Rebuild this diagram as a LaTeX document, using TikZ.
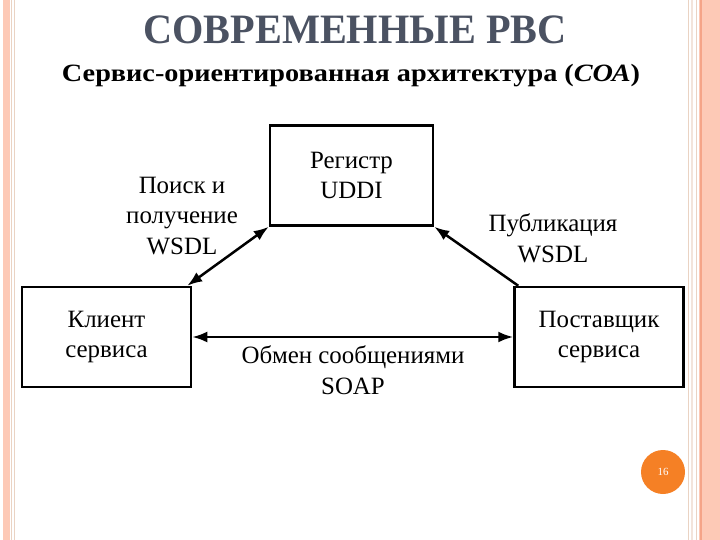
\documentclass[tikz,border=0pt]{standalone}
\usepackage{fontspec}
\setmainfont{Liberation Serif}
\usetikzlibrary{arrows.meta}
\definecolor{stripe}{HTML}{FDC9B6}
\definecolor{stripedark}{HTML}{F5A488}
\definecolor{stripelight}{HTML}{EAD3C3}
\definecolor{titlegrey}{HTML}{4B5262}
\definecolor{pageorange}{HTML}{F58025}
\tikzset{
  box/.style={draw=black, line width=2.5bp, minimum width=#1, minimum height=100bp, inner sep=0pt,
    align=center, font=\fontsize{25}{30}\selectfont},
  lbl/.style={align=center, font=\fontsize{25}{31}\selectfont, inner sep=0pt},
  conn/.style={line width=2.5bp, arrows={-Latex[length=15bp,width=11bp]}},
  dconn/.style={line width=2.5bp, arrows={Latex[length=15bp,width=11bp]-Latex[length=15bp,width=11bp]}}
}
\begin{document}
\begin{tikzpicture}[x=1bp,y=-1bp]
\useasboundingbox (0,0) rectangle (720,540);
% side stripes
\fill[stripe] (3,0) rectangle (10,540);
\fill[stripelight] (11,0) rectangle (12,540);
\fill[stripelight] (13.5,0) rectangle (14.5,540);
\fill[stripelight] (687.5,0) rectangle (689,540);
\fill[stripelight!60] (691,0) rectangle (693,540);
\fill[stripelight] (695.5,0) rectangle (697,540);
\fill[stripe] (699,0) rectangle (720,540);
\fill[stripedark] (700,0) rectangle (701.5,540);
% titles
\node[text=titlegrey, inner sep=0pt] (title) at (355,30)
  {\resizebox{423bp}{\height}{\fontsize{42}{46}\selectfont\bfseries СОВРЕМЕННЫЕ РВС}};
\node[inner sep=0pt] (subtitle) at (351,76)
  {\resizebox{578bp}{\height}{\fontsize{25}{28}\selectfont\bfseries Сервис-ориентированная архитектура (\textit{СОА})}};
% boxes
\node[box=163bp] (reg) at (351.5,175.5) {Регистр\\UDDI};
\node[box=169bp] (client) at (106.5,337) {Клиент\\сервиса};
\node[box=169bp] (prov) at (599,337) {Поставщик\\сервиса};
% connectors
\draw[dconn] ([xshift=-5bp]client.north east) -- (reg.south west);
\draw[conn] ([xshift=5bp]prov.north west) -- (reg.south east);
\draw[dconn] (client.east) -- (prov.west);
% labels
\node[lbl] (l1) at (182,216) {Поиск и\\получение\\WSDL};
\node[lbl] (l2) at (553,238) {Публикация\\WSDL};
\node[lbl] (l3) at (353,370) {Обмен сообщениями\\SOAP};
% page number
\node[circle, fill=pageorange, minimum size=44bp, inner sep=0pt, text=white, font=\fontsize{11}{12}\selectfont] (pg) at (663,472) {16};
\end{tikzpicture}
\end{document}
